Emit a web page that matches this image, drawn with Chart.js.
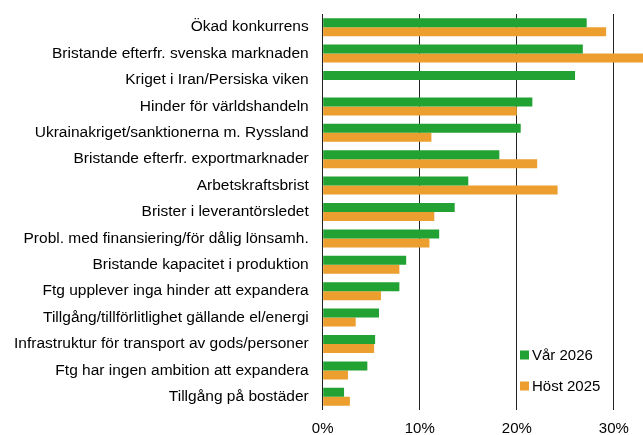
<!DOCTYPE html>
<html>
<head>
<meta charset="utf-8">
<script src="https://cdn.jsdelivr.net/npm/chart.js@4.4.1/dist/chart.umd.min.js"></script>
<style>
html,body{margin:0;padding:0;background:#fff;}
#wrap{width:643px;height:435px;position:relative;}
</style>
</head>
<body>
<div id="wrap"><canvas id="c" width="643" height="435"></canvas></div>
<script>
const categories = [
  "Ökad konkurrens",
  "Bristande efterfr. svenska marknaden",
  "Kriget i Iran/Persiska viken",
  "Hinder för världshandeln",
  "Ukrainakriget/sanktionerna m. Ryssland",
  "Bristande efterfr. exportmarknader",
  "Arbetskraftsbrist",
  "Brister i leverantörsledet",
  "Probl. med finansiering/för dålig lönsamh.",
  "Bristande kapacitet i produktion",
  "Ftg upplever inga hinder att expandera",
  "Tillgång/tillförlitlighet gällande el/energi",
  "Infrastruktur för transport av gods/personer",
  "Ftg har ingen ambition att expandera",
  "Tillgång på bostäder"
];
const seriesNames = ["Vår 2026", "Höst 2025"];
const var2026 = [27.2, 26.8, 26.0, 21.6, 20.4, 18.2, 15.0, 13.6, 12.0, 8.6, 7.9, 5.8, 5.4, 4.6, 2.2];
const host2025 = [29.2, 35.0, null, 20.0, 11.2, 22.1, 24.2, 11.5, 11.0, 7.9, 6.0, 3.4, 5.3, 2.6, 2.8];
const xTicks = [0, 10, 20, 30];
const colors = ["#22A232", "#EC9E2E"];

const FONT = "'Liberation Sans', Arial, sans-serif";

const innerLegend = {
  id: 'innerLegend',
  afterDraw(chart) {
    const ctx = chart.ctx;
    ctx.save();
    ctx.font = "15px " + FONT;
    ctx.textBaseline = 'middle';
    ctx.textAlign = 'left';
    const ys = [355, 386];
    chart.data.datasets.forEach((ds, i) => {
      ctx.fillStyle = ds.backgroundColor;
      ctx.fillRect(520, ys[i] - 4.5, 9, 9);
      ctx.fillStyle = '#000';
      ctx.fillText(ds.label, 532, ys[i] + 0.5);
    });
    ctx.restore();
  }
};

new Chart(document.getElementById('c'), {
  type: 'bar',
  data: {
    labels: categories,
    datasets: [
      { label: seriesNames[0], data: var2026, backgroundColor: colors[0], borderWidth: 0 },
      { label: seriesNames[1], data: host2025, backgroundColor: colors[1], borderWidth: 0 }
    ]
  },
  options: {
    indexAxis: 'y',
    responsive: false,
    animation: false,
    devicePixelRatio: 1,
    layout: { padding: { top: 14, right: 0, left: 0, bottom: 0 } },
    datasets: { bar: { categoryPercentage: 0.68, barPercentage: 1.0 } },
    plugins: {
      legend: { display: false },
      tooltip: { enabled: false },
      title: { display: false }
    },
    scales: {
      x: {
        type: 'linear',
        min: 0,
        max: 33,
        afterBuildTicks(scale) { scale.ticks = xTicks.map(v => ({ value: v })); },
        afterFit(scale) { scale.height = 25; scale.paddingLeft = 0; scale.paddingRight = 0; },
        grid: { color: '#222', lineWidth: 1, drawTicks: false },
        border: { display: false },
        ticks: {
          padding: 10,
          color: '#000',
          font: { family: FONT, size: 15 },
          callback: v => v + '%'
        }
      },
      y: {
        afterFit(scale) { scale.width = 322.7; scale.paddingTop = 0; scale.paddingBottom = 0; },
        grid: { display: false, drawTicks: false },
        border: { display: false },
        ticks: {
          padding: 14,
          color: '#000',
          font: { family: FONT, size: 15.5 },
          autoSkip: false
        }
      }
    }
  },
  plugins: [innerLegend]
});
</script>
</body>
</html>
